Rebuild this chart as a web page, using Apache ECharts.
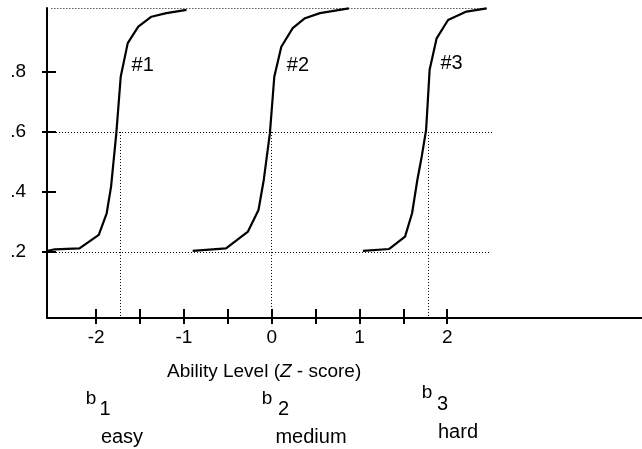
<!DOCTYPE html>
<html>
<head>
<meta charset="utf-8">
<script src="https://cdn.jsdelivr.net/npm/echarts@6/dist/echarts.min.js"></script>
<style>
html, body { margin: 0; background: #fff; }
#chart { width: 642px; height: 449px; }
</style>
</head>
<body>
<div id="chart"></div>
<script>
// axis ticks / labels
const xTicks = [-2, -1.5, -1, -0.5, 0, 0.5, 1, 1.5, 2]
const xLabels = [-2, -1, 0, 1, 2]
const yTicks = [0.2, 0.4, 0.6, 0.8]

// item characteristic curves
const curve1 = [[-2.55, 0.204], [-2.47, 0.209], [-2.19, 0.212], [-1.97, 0.257], [-1.88, 0.329], [-1.83, 0.418], [-1.77, 0.596], [-1.72, 0.784], [-1.64, 0.896], [-1.52, 0.951], [-1.37, 0.984], [-1.20, 0.996], [-0.97, 1.007]]
const curve2 = [[-0.90, 0.204], [-0.52, 0.212], [-0.27, 0.268], [-0.15, 0.34], [-0.09, 0.44], [-0.02, 0.596], [0.03, 0.784], [0.11, 0.884], [0.24, 0.946], [0.38, 0.979], [0.55, 0.996], [0.88, 1.012]]
const curve3 = [[1.04, 0.204], [1.34, 0.21], [1.52, 0.251], [1.60, 0.329], [1.66, 0.44], [1.71, 0.518], [1.76, 0.607], [1.78, 0.707], [1.80, 0.807], [1.88, 0.912], [2.01, 0.973], [2.22, 1.001], [2.45, 1.012]]
const curveNames = ['#1', '#2', '#3']
const curveLabelAt = [[-1.47, 0.823], [0.30, 0.823], [2.05, 0.827]]

// dotted guides: [y, xFrom, xTo] and difficulty (b) values
const hGuides = [[0.2, -2.56, 2.48], [0.6, -2.56, 2.52], [1.013, -2.51, 2.45]]
const bValues = [-1.72, 0, 1.78]

const X_MIN = -2.56, X_MAX = 4.22, Y_MIN = -0.02, Y_MAX = 1.013
const FONT = '"Liberation Sans", Arial, Helvetica, sans-serif'

const chart = echarts.init(document.getElementById('chart'))

const guideLines = []
hGuides.forEach(g => {
    guideLines.push([{ coord: [g[1], g[0]] }, { coord: [g[2], g[0]] }])
})
bValues.forEach(b => {
    guideLines.push([{ coord: [b, 0.6] }, { coord: [b, Y_MIN] }])
})

const curveSeries = [curve1, curve2, curve3].map((d, i) => ({
    type: 'line',
    data: d,
    symbol: 'none',
    silent: true,
    z: 3,
    lineStyle: { color: '#000', width: 2.2 },
    markPoint: {
        symbol: 'circle',
        symbolSize: 0,
        silent: true,
        label: {
            show: true,
            position: 'inside',
            formatter: curveNames[i],
            color: '#000',
            fontSize: 20,
            fontFamily: FONT
        },
        data: [{ coord: curveLabelAt[i] }]
    }
}))

curveSeries.push({
    type: 'line',
    data: [],
    silent: true,
    markLine: {
        silent: true,
        symbol: ['none', 'none'],
        label: { show: false },
        lineStyle: { color: '#000', width: 1, type: [1, 2] },
        data: guideLines
    }
})

function text(str, x, y, size, align) {
    return {
        type: 'text',
        x: x,
        y: y,
        style: {
            text: str,
            fill: '#000',
            fontSize: size,
            fontFamily: FONT,
            align: align || 'center',
            verticalAlign: 'middle'
        }
    }
}

chart.setOption({
    animation: false,
    grid: [
        { left: 47, right: 0, top: 8, bottom: 131 },
        { left: 47, right: 0, top: 8, bottom: 131 } // overlay for the outer half of ticks
    ],
    xAxis: [
        {
            type: 'value', gridIndex: 0, min: X_MIN, max: X_MAX,
            axisLine: { show: true, onZero: false, lineStyle: { color: '#000', width: 2 } },
            axisTick: { show: true, inside: true, length: 9, customValues: xTicks, lineStyle: { color: '#000', width: 2 } },
            axisLabel: { customValues: xLabels, color: '#000', fontSize: 19, fontFamily: FONT, margin: 10 },
            splitLine: { show: false }
        },
        {
            type: 'value', gridIndex: 1, min: X_MIN, max: X_MAX,
            axisLine: { show: false, onZero: false },
            axisTick: { show: true, inside: false, length: 6, customValues: xTicks, lineStyle: { color: '#000', width: 2 } },
            axisLabel: { show: false },
            splitLine: { show: false }
        }
    ],
    yAxis: [
        {
            type: 'value', gridIndex: 0, min: Y_MIN, max: Y_MAX,
            axisLine: { show: true, onZero: false, lineStyle: { color: '#000', width: 2 } },
            axisTick: { show: true, inside: true, length: 9, customValues: yTicks, lineStyle: { color: '#000', width: 2 } },
            axisLabel: {
                customValues: yTicks, color: '#000', fontSize: 19, fontFamily: FONT, margin: 21,
                padding: [4, 0, 0, 0],
                formatter: v => String(+v.toFixed(1)).replace(/^0/, '')
            },
            splitLine: { show: false }
        },
        {
            type: 'value', gridIndex: 1, min: Y_MIN, max: Y_MAX,
            axisLine: { show: false, onZero: false },
            axisTick: { show: true, inside: false, length: 5, customValues: yTicks, lineStyle: { color: '#000', width: 2 } },
            axisLabel: { show: false },
            splitLine: { show: false }
        }
    ],
    series: curveSeries,
    graphic: [
        {
            type: 'text', x: 167, y: 372,
            style: {
                text: '{a|Ability Level (}{z|Z}{a| - score)}',
                align: 'left', verticalAlign: 'middle',
                rich: {
                    a: { fontSize: 19, fontFamily: FONT, fill: '#000' },
                    z: { fontSize: 19, fontFamily: FONT, fontStyle: 'italic', fill: '#000' }
                }
            }
        },
        text('b', 91, 399, 19), text('1', 105, 409, 20),
        text('b', 267, 399, 19), text('2', 283.5, 409, 20),
        text('b', 427, 393, 19), text('3', 442.5, 404, 20),
        text('easy', 122, 437, 20),
        text('medium', 311, 437, 20),
        text('hard', 458, 432, 20)
    ]
})
</script>
</body>
</html>
